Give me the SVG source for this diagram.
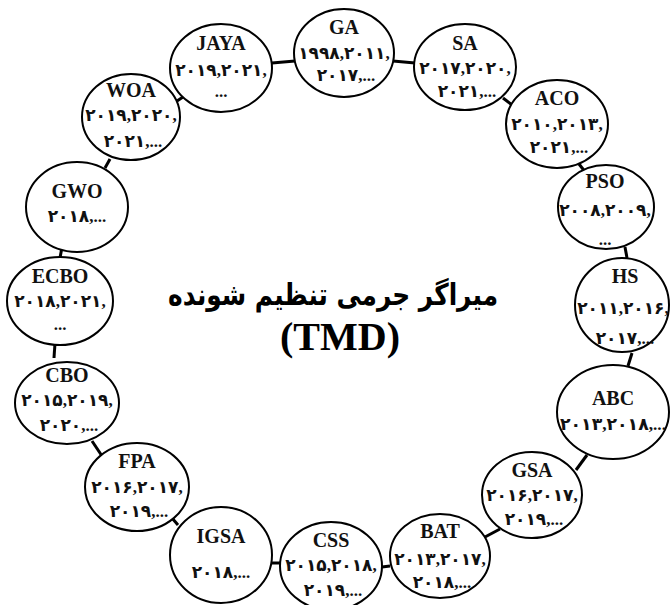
<svg xmlns="http://www.w3.org/2000/svg" width="670" height="605" viewBox="0 0 670 605">
<style>
.n ellipse{fill:#fff;stroke:#000;stroke-width:2}
.l{font-family:"Liberation Serif",serif;font-weight:bold;font-size:20px;text-anchor:middle;fill:#111}
.y{font-family:"Liberation Serif","DejaVu Sans",serif;font-weight:bold;font-size:17px;text-anchor:middle;fill:#111}
.c line{stroke:#000;stroke-width:3;stroke-linecap:butt}
.t1{font-family:"DejaVu Sans",sans-serif;font-weight:bold;font-size:30px;text-anchor:middle;fill:#000}
.t2{font-family:"Liberation Serif",serif;font-weight:bold;font-size:40px;text-anchor:middle;fill:#000}
</style>
<rect width="670" height="605" fill="#fff"/>
<g id="connectors" class="c">
<line x1="272" y1="63" x2="295" y2="61"/>
<line x1="393" y1="61" x2="415" y2="63"/>
<line x1="503" y1="98" x2="512" y2="105"/>
<line x1="579" y1="164" x2="586" y2="173"/>
<line x1="625" y1="247" x2="627" y2="258"/>
<line x1="632" y1="353" x2="628" y2="366"/>
<line x1="587" y1="455" x2="576" y2="470"/>
<line x1="500" y1="529" x2="485" y2="537"/>
<line x1="390" y1="566" x2="382" y2="567"/>
<line x1="280" y1="563" x2="272" y2="563"/>
<line x1="178" y1="525" x2="172" y2="518"/>
<line x1="102" y1="456" x2="92" y2="441"/>
<line x1="55" y1="343" x2="54" y2="358"/>
<line x1="62" y1="247" x2="60" y2="258"/>
<line x1="105" y1="168" x2="110" y2="159"/>
<line x1="177" y1="101" x2="186" y2="95"/>
</g>
<g id="node-JAYA" class="n"><ellipse cx="221" cy="68" rx="51" ry="44"/><text class="l" x="221" y="50">JAYA</text><text class="y" x="221" y="76">۲۰۱۹,۲۰۲۱,</text><text class="y" x="221" y="97">...</text></g>
<g id="node-GA" class="n"><ellipse cx="344" cy="53" rx="50" ry="44"/><text class="l" x="344" y="34">GA</text><text class="y" x="344" y="59">۱۹۹۸,۲۰۱۱,</text><text class="y" x="346" y="81">۲۰۱۷,...</text></g>
<g id="node-SA" class="n"><ellipse cx="465" cy="67" rx="51" ry="43"/><text class="l" x="465" y="50">SA</text><text class="y" x="465" y="74">۲۰۱۷,۲۰۲۰,</text><text class="y" x="467" y="97">۲۰۲۱,...</text></g>
<g id="node-ACO" class="n"><ellipse cx="557" cy="124" rx="51" ry="44"/><text class="l" x="557" y="105">ACO</text><text class="y" x="557" y="130">۲۰۱۰,۲۰۱۳,</text><text class="y" x="559" y="153">۲۰۲۱,...</text></g>
<g id="node-PSO" class="n"><ellipse cx="606" cy="207" rx="48" ry="42"/><text class="l" x="605" y="188">PSO</text><text class="y" x="605" y="216">۲۰۰۸,۲۰۰۹,</text><text class="y" x="605" y="245">...</text></g>
<g id="node-HS" class="n"><ellipse cx="622" cy="305" rx="47" ry="47"/><text class="l" x="625" y="283">HS</text><text class="y" x="623" y="314">۲۰۱۱,۲۰۱۶,</text><text class="y" x="625" y="344">۲۰۱۷,...</text></g>
<g id="node-ABC" class="n"><ellipse cx="613" cy="412" rx="56" ry="47"/><text class="l" x="613" y="405">ABC</text><text class="y" x="613" y="430" textLength="106" lengthAdjust="spacingAndGlyphs">۲۰۱۳,۲۰۱۸,...</text></g>
<g id="node-GSA" class="n"><ellipse cx="532" cy="495" rx="50" ry="43"/><text class="l" x="532" y="477">GSA</text><text class="y" x="532" y="501">۲۰۱۶,۲۰۱۷,</text><text class="y" x="534" y="525">۲۰۱۹,...</text></g>
<g id="node-BAT" class="n"><ellipse cx="440" cy="556" rx="50" ry="42"/><text class="l" x="440" y="538">BAT</text><text class="y" x="440" y="565">۲۰۱۳,۲۰۱۷,</text><text class="y" x="442" y="588">۲۰۱۸,...</text></g>
<g id="node-CSS" class="n"><ellipse cx="331" cy="566" rx="51" ry="44"/><text class="l" x="331" y="547">CSS</text><text class="y" x="331" y="571">۲۰۱۵,۲۰۱۸,</text><text class="y" x="333" y="596">۲۰۱۹,...</text></g>
<g id="node-IGSA" class="n"><ellipse cx="221" cy="555" rx="51" ry="48"/><text class="l" x="221" y="543">IGSA</text><text class="y" x="221" y="578">۲۰۱۸,...</text></g>
<g id="node-FPA" class="n"><ellipse cx="137" cy="487" rx="52" ry="44"/><text class="l" x="137" y="468">FPA</text><text class="y" x="137" y="493">۲۰۱۶,۲۰۱۷,</text><text class="y" x="139" y="517">۲۰۱۹,...</text></g>
<g id="node-CBO" class="n"><ellipse cx="67" cy="403" rx="52" ry="41"/><text class="l" x="67" y="382">CBO</text><text class="y" x="67" y="406">۲۰۱۵,۲۰۱۹,</text><text class="y" x="69" y="431">۲۰۲۰,...</text></g>
<g id="node-ECBO" class="n"><ellipse cx="60" cy="301" rx="53" ry="44"/><text class="l" x="60" y="283">ECBO</text><text class="y" x="60" y="307">۲۰۱۸,۲۰۲۱,</text><text class="y" x="60" y="330">...</text></g>
<g id="node-GWO" class="n"><ellipse cx="77" cy="207" rx="51" ry="45"/><text class="l" x="77" y="198">GWO</text><text class="y" x="77" y="222">۲۰۱۸,...</text></g>
<g id="node-WOA" class="n"><ellipse cx="131" cy="117" rx="49" ry="43"/><text class="l" x="131" y="97">WOA</text><text class="y" x="131" y="121">۲۰۱۹,۲۰۲۰,</text><text class="y" x="133" y="147">۲۰۲۱,...</text></g>
<g id="center">
<text class="t1" x="333" y="305" direction="rtl" textLength="330" lengthAdjust="spacingAndGlyphs">میراگر جرمی تنظیم شونده</text>
<text class="t2" x="340" y="350">(TMD)</text>
</g>
</svg>
